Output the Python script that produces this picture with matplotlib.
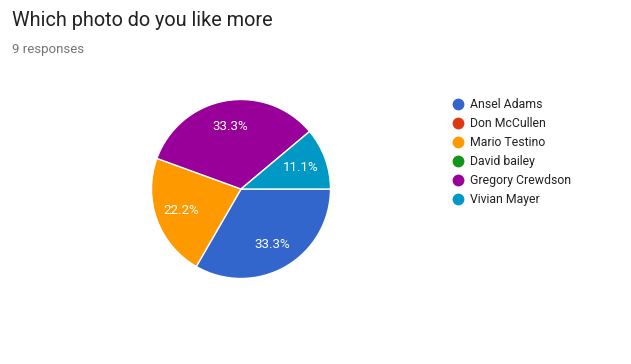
import matplotlib
matplotlib.use("Agg")
import matplotlib.pyplot as plt
from matplotlib.lines import Line2D

title = "Which photo do you like more"
subtitle = "9 responses"
labels = ["Ansel Adams", "Don McCullen", "Mario Testino", "David bailey",
          "Gregory Crewdson", "Vivian Mayer"]
counts = [3, 0, 2, 0, 3, 1]
colors = ["#3366cc", "#dc3912", "#ff9900", "#109618", "#990099", "#0099c6"]

W, H = 631, 364
fig = plt.figure(figsize=(W / 100, H / 100), dpi=100)
fig.patch.set_facecolor("white")
plt.rcParams['font.family'] = ['Roboto', 'DejaVu Sans']

fig.text(12 / W, 1 - 20 / H, title, fontsize=14.3, color="#212121", va="center", ha="left")
fig.text(12 / W, 1 - 49 / H, subtitle, fontsize=9.5, color="#757575", va="center", ha="left")

cx, cy, r = 241, 189, 89.5
ax = fig.add_axes([(cx - r) / W, (H - cy - r) / H, 2 * r / W, 2 * r / H])
vals = [c for c in counts if c > 0]
cols = [col for c, col in zip(counts, colors) if c > 0]
ax.pie(vals, colors=cols, startangle=0, counterclock=False,
       autopct=lambda p: f"{p:.1f}%", pctdistance=0.71,
       wedgeprops=dict(edgecolor="white", linewidth=1),
       textprops=dict(color="white", fontsize=9.6))
ax.set_xlim(-1, 1)
ax.set_ylim(-1, 1)
ax.set_aspect("equal")
ax.axis("off")

lx, ly0, dy = 458, 104, 19
for i, (lab, col) in enumerate(zip(labels, colors)):
    y = ly0 + i * dy
    fig.add_artist(Line2D([lx / W], [1 - y / H], marker="o", markersize=8.5,
                          color=col, markeredgewidth=0, transform=fig.transFigure))
    fig.text(470 / W, 1 - (y + 0.5) / H, lab, fontsize=8.85, color="#222222", va="center", ha="left")

fig.savefig("out.png", dpi=100)
